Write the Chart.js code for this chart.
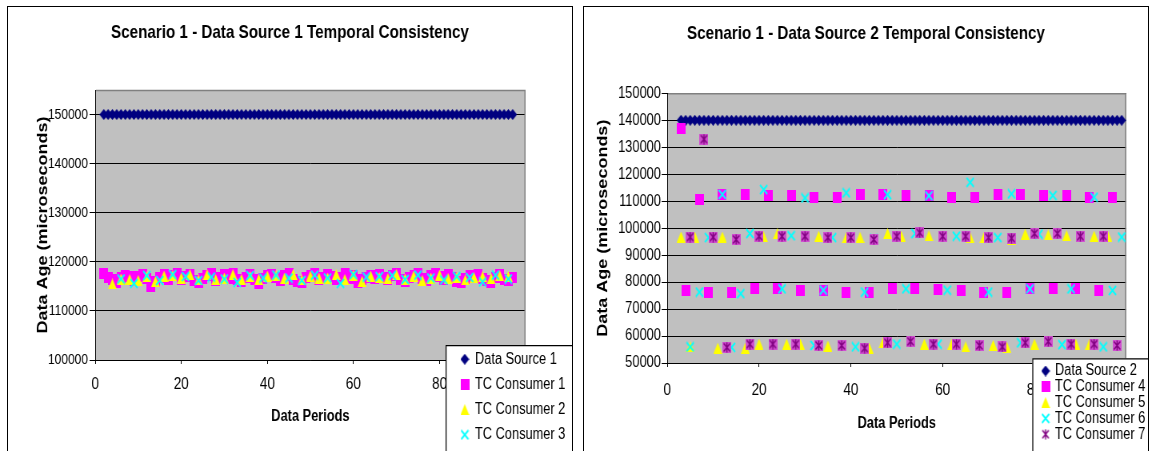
<!DOCTYPE html>
<html><head><meta charset="utf-8">
<script src="https://cdn.jsdelivr.net/npm/chart.js@4.4.1/dist/chart.umd.min.js"></script>
<style>
html,body{margin:0;padding:0;background:#fff;width:1150px;height:451px;overflow:hidden;}
.panel{position:absolute;border:1px solid #000;background:#fff;overflow:hidden;}
.panel canvas{position:absolute;left:0;top:0;transform:scaleX(0.8);transform-origin:0 0;}
</style></head><body>
<div class="panel" style="left:7px;top:6px;width:564px;height:460px;"><canvas id="c1" width="705" height="444"></canvas></div>
<div class="panel" style="left:583px;top:6px;width:564px;height:460px;"><canvas id="c2" width="705" height="444"></canvas></div>
<script>
// ---------- Left chart data ----------
const leftTitle = 'Scenario 1 - Data Source 1 Temporal Consistency';
const leftYTicks = [100000,110000,120000,130000,140000,150000];
const xTicks = [0,20,40,60,80,100];
const ds1X = [2,3,4,5,6,7,8,9,10,11,12,13,14,15,16,17,18,19,20,21,22,23,24,25,26,27,28,29,30,31,32,33,34,35,36,37,38,39,40,41,42,43,44,45,46,47,48,49,50,51,52,53,54,55,56,57,58,59,60,61,62,63,64,65,66,67,68,69,70,71,72,73,74,75,76,77,78,79,80,81,82,83,84,85,86,87,88,89,90,91,92,93,94,95,96,97];
const ds1Y = [150000,150000,150000,150000,150000,150000,150000,150000,150000,150000,150000,150000,
150000,150000,150000,150000,150000,150000,150000,150000,150000,150000,150000,150000,
150000,150000,150000,150000,150000,150000,150000,150000,150000,150000,150000,150000,
150000,150000,150000,150000,150000,150000,150000,150000,150000,150000,150000,150000,
150000,150000,150000,150000,150000,150000,150000,150000,150000,150000,150000,150000,
150000,150000,150000,150000,150000,150000,150000,150000,150000,150000,150000,150000,
150000,150000,150000,150000,150000,150000,150000,150000,150000,150000,150000,150000,
150000,150000,150000,150000,150000,150000,150000,150000,150000,150000,150000,150000];
const tc1X = [2,3,4,5,6,7,8,9,10,11,12,13,14,15,16,17,18,19,20,21,22,23,24,25,26,27,28,29,30,31,32,33,34,35,36,37,38,39,40,41,42,43,44,45,46,47,48,49,50,51,52,53,54,55,56,57,58,59,60,61,62,63,64,65,66,67,68,69,70,71,72,73,74,75,76,77,78,79,80,81,82,83,84,85,86,87,88,89,90,91,92,93,94,95,96,97];
const tc1Y = [117600,116900,116300,115700,116800,117300,117000,116200,117100,117500,116600,114900,
116000,116900,117400,116500,117200,117600,116300,117000,117500,116100,115800,116700,
117300,117600,116200,116900,117400,116600,117700,116300,115900,116900,117500,116400,
115600,116700,117200,117500,116800,116100,117300,117600,116500,116000,115700,116800,
117300,117700,116400,116900,117500,117000,116300,116900,117600,116600,117300,115700,
116300,116800,117300,116700,117500,116900,116300,117200,117600,116400,115900,116800,
117300,117600,116600,116100,117200,117700,117000,116500,117400,116800,116000,115700,
116600,117300,116900,117500,116700,116200,115800,116800,117400,116400,116100,116900];
const tc2X = [4,6,8,10,12,14,16,18,20,22,24,26,28,30,32,34,36,38,40,42,44,46,48,50,52,54,56,58,60,62,64,66,68,70,72,74,76,78,80,82,84,86,88,90,92,94,96];
const tc2Y = [115500,116500,116400,116200,117000,116000,117100,117200,116700,117400,116300,117400,
116400,116700,117400,116400,117000,116400,117100,117200,116700,117400,116300,117100,
116700,116700,117400,116400,117300,116000,117100,116800,116600,117400,116500,117100,
116200,116700,117300,116600,116900,116300,116800,117000,116600,117200,117000];
const tc3X = [6,9,12,15,18,21,24,27,30,33,36,39,42,45,48,51,54,57,60,63,66,69,72,75,78,81,84,87,90,93,96];
const tc3Y = [116500,115600,117200,116200,117400,117000,116200,116900,116500,115800,117200,116700,
117300,116700,116200,117300,116700,115600,117400,116900,117000,117200,116400,117300,
116700,116300,117000,116800,115900,117300,116500];

// ---------- Right chart data ----------
const rightTitle = 'Scenario 1 - Data Source 2 Temporal Consistency';
const rightYTicks = [50000,60000,70000,80000,90000,100000,110000,120000,130000,140000,150000];
const ds2X = [3,4,5,6,7,8,9,10,11,12,13,14,15,16,17,18,19,20,21,22,23,24,25,26,27,28,29,30,31,32,33,34,35,36,37,38,39,40,41,42,43,44,45,46,47,48,49,50,51,52,53,54,55,56,57,58,59,60,61,62,63,64,65,66,67,68,69,70,71,72,73,74,75,76,77,78,79,80,81,82,83,84,85,86,87,88,89,90,91,92,93,94,95,96,97,98,99];
const ds2Y = [140000,140000,140000,140000,140000,140000,140000,140000,140000,140000,140000,140000,
140000,140000,140000,140000,140000,140000,140000,140000,140000,140000,140000,140000,
140000,140000,140000,140000,140000,140000,140000,140000,140000,140000,140000,140000,
140000,140000,140000,140000,140000,140000,140000,140000,140000,140000,140000,140000,
140000,140000,140000,140000,140000,140000,140000,140000,140000,140000,140000,140000,
140000,140000,140000,140000,140000,140000,140000,140000,140000,140000,140000,140000,
140000,140000,140000,140000,140000,140000,140000,140000,140000,140000,140000,140000,
140000,140000,140000,140000,140000,140000,140000,140000,140000,140000,140000,140000,140000];
const tc4X = [3,4,7,9,12,14,17,19,22,24,27,29,32,34,37,39,42,44,47,49,52,54,57,59,62,64,67,69,72,74,77,79,82,84,87,89,92,94,97];
const tc4Y = [136800,76900,110800,76300,112500,76300,112600,77500,112000,77500,112000,76900,111300,76900,111300,76300,112500,76300,112500,77500,
112000,77500,112000,77400,111300,76900,111300,76300,112600,76300,112600,77500,112000,77500,112000,77500,111300,76900,111300];
const tc5X = [3,5,6,8,11,12,17,20,21,24,26,29,33,35,39,42,44,47,48,51,56,57,62,65,66,69,71,74,75,78,80,83,87,89,92,93,96];
const tc5Y = [96700,56000,96700,133000,55500,96700,55500,57000,96800,98000,57000,57000,97000,56300,96500,96600,55500,57500,98000,97000,
57000,97200,57000,56000,96500,96500,56500,55800,95800,97800,57000,97500,97200,57000,57000,97000,97000];
const tc6X = [5,7,9,12,14,16,18,21,23,25,27,30,32,34,36,39,41,43,45,48,50,52,54,57,59,61,63,66,68,70,72,75,77,79,81,84,86,88,90,93,95,97,99];
const tc6Y = [56000,76300,96500,112500,55800,75700,98000,114300,56800,77500,97200,111200,56500,77000,96500,113100,56000,76300,96000,112400,
57000,77500,98000,112000,57000,77000,97000,117000,56500,76300,96500,112700,57500,77500,97800,112100,56800,77500,97000,111500,56000,76900,96700];
const tc7X = [5,8,10,13,15,18,20,23,25,28,30,33,35,38,40,43,45,48,50,53,55,58,60,63,65,68,70,73,75,78,80,83,85,88,90,93,95,98];
const tc7Y = [96700,133000,96700,55800,95800,57000,97000,57000,97000,57000,97000,56500,96500,56500,96500,55500,95800,57500,97000,58000,
98300,57000,97000,57000,97000,56500,96500,56000,96300,57500,98000,58000,98000,57000,97000,57000,97000,56500];

// ---------- rendering ----------
const FONT = "'Liberation Sans', Arial, sans-serif";
Chart.defaults.font.family = FONT;
Chart.defaults.color = '#000';

function mk(w, h, draw){ const c = document.createElement('canvas'); c.width = w; c.height = h; draw(c.getContext('2d'), w, h); return c; }
const M = {
  diamond: mk(11,11,(g,w,h)=>{g.fillStyle='#000080';g.beginPath();g.moveTo(w/2,0);g.lineTo(w,h/2);g.lineTo(w/2,h);g.lineTo(0,h/2);g.closePath();g.fill();}),
  square: mk(11,11,(g,w,h)=>{g.fillStyle='#FF00FF';g.fillRect(0,0,w,h);}),
  triangle: mk(11,11,(g,w,h)=>{g.fillStyle='#FFFF00';g.beginPath();g.moveTo(w/2,0);g.lineTo(w,h);g.lineTo(0,h);g.closePath();g.fill();}),
  cross: mk(11,11,(g,w,h)=>{g.strokeStyle='#00FFFF';g.lineWidth=1.8;g.beginPath();g.moveTo(1,1);g.lineTo(w-1,h-1);g.moveTo(w-1,1);g.lineTo(1,h-1);g.stroke();}),
  star: mk(11,11,(g,w,h)=>{g.fillStyle='#D050D0';g.fillRect(0,0,w,h);g.strokeStyle='#800080';g.lineWidth=1.6;g.beginPath();g.moveTo(1.5,1.5);g.lineTo(w-1.5,h-1.5);g.moveTo(w-1.5,1.5);g.lineTo(1.5,h-1.5);g.moveTo(w/2,0.5);g.lineTo(w/2,h-0.5);g.stroke();}),
  starLegend: mk(11,11,(g,w,h)=>{g.strokeStyle='#800080';g.lineWidth=1.6;g.beginPath();g.moveTo(1.5,1.5);g.lineTo(w-1.5,h-1.5);g.moveTo(w-1.5,1.5);g.lineTo(1.5,h-1.5);g.moveTo(w/2,0.5);g.lineTo(w/2,h-0.5);g.stroke();})
};

function pts(xs, ys){ return xs.map((x,i)=>({x:x, y:ys[i]})); }
function ds(label, xs, ys, marker, legendMarker, order){
  return {label, data: pts(xs, ys), pointStyle: marker, legendMarker: legendMarker || marker,
    pointRadius: 5, showLine: false, order: order, clip: false};
}

const plotBg = {
  id: 'plotBg',
  beforeDraw(chart){ const {ctx, chartArea:a} = chart; ctx.save(); ctx.fillStyle = '#C0C0C0';
    ctx.fillRect(a.left, a.top, a.right - a.left, a.bottom - a.top); ctx.restore(); },
  beforeDatasetsDraw(chart){ const {ctx, chartArea:a} = chart; ctx.save(); ctx.strokeStyle = '#808080'; ctx.lineWidth = 1.5;
    ctx.beginPath(); ctx.moveTo(a.left + 1, a.top + 0.5); ctx.lineTo(a.right - 0.75, a.top + 0.5); ctx.lineTo(a.right - 0.75, a.bottom - 1); ctx.stroke(); ctx.restore(); }
};

function legendPlugin(L){
  return { id: 'boxLegend', afterDraw(chart){
    const ctx = chart.ctx; ctx.save();
    ctx.fillStyle = '#fff'; ctx.fillRect(L.x, L.y, 1000, 400);
    ctx.strokeStyle = '#000'; ctx.lineWidth = 1.25;
    ctx.beginPath(); ctx.moveTo(L.x + 0.6, 1000); ctx.lineTo(L.x + 0.6, L.y + 0.5); ctx.lineTo(1000, L.y + 0.5); ctx.stroke();
    ctx.font = L.size + 'px ' + FONT; ctx.fillStyle = '#000'; ctx.textBaseline = 'middle'; ctx.textAlign = 'left';
    chart.data.datasets.forEach((d, i) => {
      const y = L.y0 + i * L.step; const m = d.legendMarker;
      ctx.drawImage(m, L.mx - m.width / 2, y - m.height / 2);
      ctx.fillText(d.label, L.tx, y);
    });
    ctx.restore();
  }};
}

function makeChart(id, cfg){
  return new Chart(document.getElementById(id), {
    type: 'scatter',
    data: { datasets: cfg.datasets },
    options: {
      responsive: false, animation: false, devicePixelRatio: 1, events: [],
      layout: { padding: 0 },
      plugins: {
        legend: { display: false }, tooltip: { enabled: false },
        title: { display: true, text: cfg.title, color: '#000', font: { size: 19, weight: 'bold', family: FONT },
          padding: { top: cfg.titlePadTop, bottom: cfg.titlePadBottom } }
      },
      scales: {
        x: { type: 'linear', min: 0, max: 100,
          afterBuildTicks: s => { s.ticks = xTicks.map(v => ({value: v})); },
          afterFit: s => { s.height = cfg.xHeight; },
          ticks: { font: { size: 17 }, color: '#000', padding: cfg.xTickPad, maxRotation: 0, autoSkip: false },
          grid: { drawOnChartArea: false, color: '#000', tickLength: 4 },
          border: { color: '#000', width: 1 },
          title: { display: true, text: 'Data Periods', color: '#000', font: { size: 16, weight: 'bold' },
            padding: { top: 0, bottom: cfg.xTitlePadBottom } } },
        y: { type: 'linear', min: cfg.yMin, max: cfg.yMax,
          afterBuildTicks: s => { s.ticks = cfg.yTicks.map(v => ({value: v})); },
          afterFit: s => { s.width = cfg.yWidth; },
          ticks: { font: { size: cfg.yTickSize }, color: '#000', padding: cfg.yTickPad, callback: v => String(v) },
          grid: { color: '#000', lineWidth: 1, tickLength: 7 },
          border: { color: '#000', width: 1 },
          title: { display: true, text: 'Data Age (microseconds)', color: '#000', font: { size: 18, weight: 'bold' },
            padding: { top: cfg.yTitlePadTop, bottom: 0 } } },
        spacer: { axis: 'y', type: 'linear', position: 'right', min: 0, max: 1,
          afterFit: s => { s.width = cfg.padRight; },
          ticks: { display: false }, grid: { display: false, drawTicks: false }, border: { display: false } }
      }
    },
    plugins: [plotBg, legendPlugin(cfg.legend)]
  });
}

makeChart('c1', {
  title: leftTitle, titlePadTop: 14.6, titlePadBottom: 45.6, padRight: 58,
  xHeight: 91, xTickPad: 10, xTitlePadBottom: 24.4,
  yMin: 100000, yMax: 155000, yTicks: leftYTicks, yWidth: 109, yTickSize: 15, yTickPad: 2, yTitlePadTop: 33,
  legend: { x: 547, y: 338, y0: 352.2, step: 25.2, mx: 571, tx: 583.75, size: 16 },
  datasets: [
    ds('Data Source 1', ds1X, ds1Y, M.diamond, null, 4),
    ds('TC Consumer 1', tc1X, tc1Y, M.square, null, 3),
    ds('TC Consumer 2', tc2X, tc2Y, M.triangle, null, 2),
    ds('TC Consumer 3', tc3X, tc3Y, M.cross, null, 1)
  ]
});

makeChart('c2', {
  title: rightTitle, titlePadTop: 15.6, titlePadBottom: 47.9, padRight: 23.4,
  xHeight: 88, xTickPad: 13, xTitlePadBottom: 17.4,
  yMin: 50000, yMax: 150000, yTicks: rightYTicks, yWidth: 104.1, yTickSize: 16, yTickPad: 1, yTitlePadTop: 13.6,
  legend: { x: 560.4, y: 351.3, y0: 364, step: 15.8, mx: 577, tx: 588.75, size: 16 },
  datasets: [
    ds('Data Source 2', ds2X, ds2Y, M.diamond, null, 5),
    ds('TC Consumer 4', tc4X, tc4Y, M.square, null, 4),
    ds('TC Consumer 5', tc5X, tc5Y, M.triangle, null, 3),
    ds('TC Consumer 6', tc6X, tc6Y, M.cross, null, 2),
    ds('TC Consumer 7', tc7X, tc7Y, M.star, M.starLegend, 1)
  ]
});
</script>
</body></html>
